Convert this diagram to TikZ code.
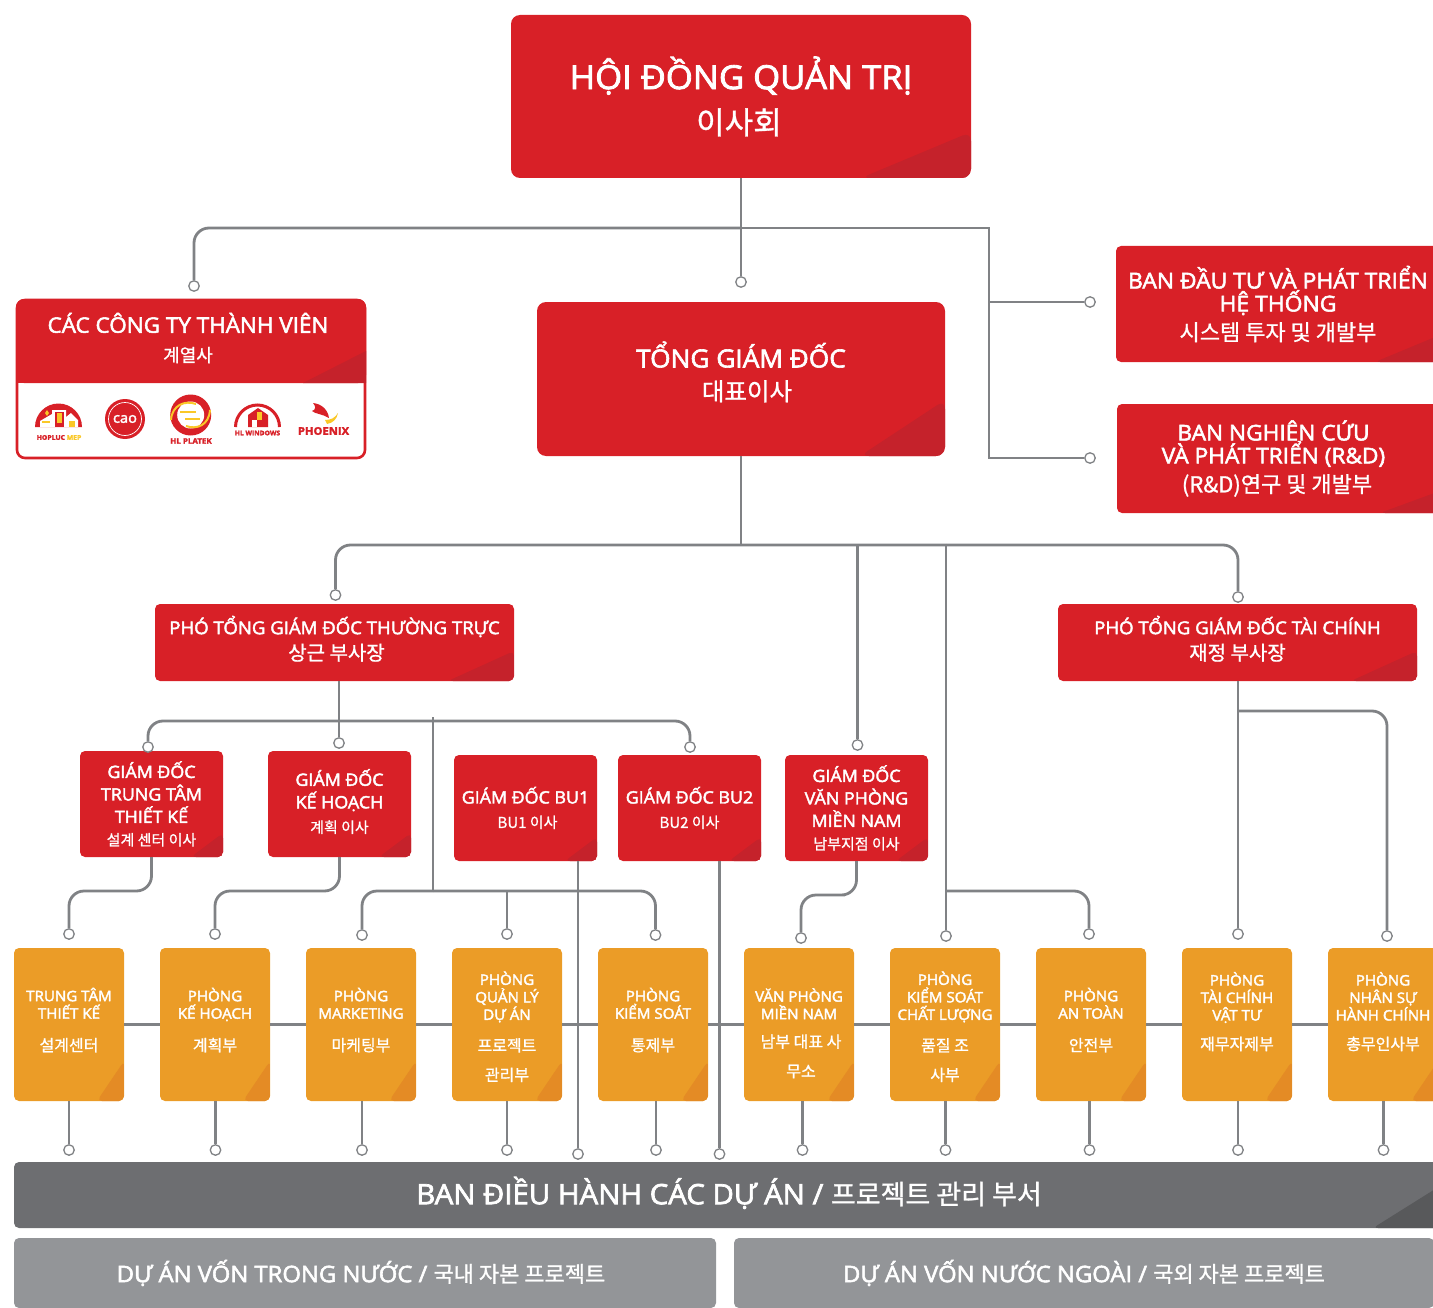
\documentclass[tikz,border=0pt]{standalone}
\usepackage{fontspec}
\setmainfont{Open Sans}[FakeStretch=1.05,FakeBold=2.5]
\newfontfamily\kr{Noto Sans CJK KR}[FakeBold=1]
\usetikzlibrary{positioning}
\definecolor{mainred}{RGB}{216,32,39}
\definecolor{foldred}{RGB}{197,34,43}
\definecolor{mainorange}{RGB}{235,156,39}
\definecolor{foldorange}{RGB}{228,139,37}
\definecolor{darkgrey}{RGB}{109,110,113}
\definecolor{foldgrey}{RGB}{88,89,91}
\definecolor{lightgrey}{RGB}{147,149,152}
\definecolor{linegrey}{RGB}{128,130,133}
\definecolor{logoyellow}{RGB}{250,200,40}
\newcommand{\fs}[2]{\fontsize{#1}{#2}\selectfont}
\newcommand{\lift}[1]{\rule[-#1pt]{0pt}{#1pt}}
\newcommand{\drop}[1]{\rule{0pt}{#1pt}}
\tikzset{
  corner/.style n args={3}{path picture={\fill[#3] ([xshift=-#1 pt]path picture bounding box.south east) -- ([yshift=#2 pt]path picture bounding box.south east) -- (path picture bounding box.south east) -- cycle;}},
  box/.style={rounded corners=5pt,inner sep=0pt,align=center,text=white},
  redbox/.style={box,fill=mainred},
  bigbox/.style={redbox,rounded corners=9pt},
  gdbox/.style={redbox,minimum width=143pt,minimum height=106pt,corner={32}{24}{foldred},font=\fs{17}{22.5}},
  phobox/.style={redbox,minimum width=359pt,minimum height=77pt,corner={66}{30}{foldred},font=\fs{17.7}{25}},
  orbox/.style={box,fill=mainorange,minimum width=110pt,minimum height=153pt,corner={27}{40}{foldorange},font=\fs{14.4}{17.5}},
  dot/.style={circle,draw=linegrey,fill=white,line width=1.3pt,minimum size=10.5pt,inner sep=0pt},
  conn/.style={draw=linegrey,line width=2.8pt},
  curved/.style={conn,rounded corners=15pt},
  logotxt/.style={text=mainred,inner sep=0pt,font=\bfseries}
}
\begin{document}
\begin{tikzpicture}[x=1pt,y=-1pt]
    \useasboundingbox (0,0) rectangle (1433,1308);
    \clip (0,0) rectangle (1433,1308);

    % === Top boxes ===
    \node[bigbox,minimum width=460pt,minimum height=163pt,corner={110}{46}{foldred},font=\fs{33}{45}] (hdqt) at (741,96.5) {HỘI ĐỒNG QUẢN TRỊ\\{\kr\fs{31}{45}이사회\hspace*{4pt}}};
    \node[bigbox,minimum width=408pt,minimum height=154pt,corner={85}{56}{foldred},font=\fs{25}{33}] (tgd) at (741,379) {TỔNG GIÁM ĐỐC\\{\kr\fs{24.5}{33}\hspace*{12pt}대표이사\lift{16}}};
    \node[redbox,minimum width=324pt,minimum height=116pt,corner={65}{27}{foldred},font=\fs{21.8}{23}] (dautu) at (1278,304) {BAN ĐẦU TƯ VÀ PHÁT TRIỂN\\HỆ THỐNG\\[6pt]{\kr\fs{22}{23}시스템 투자 및 개발부}};
    \node[redbox,minimum width=323pt,minimum height=109pt,corner={60}{22}{foldred},font=\fs{21.6}{23}] (rnd) at (1278.5,458.5) {\hspace*{-10pt}BAN NGHIÊN CỨU\\\hspace*{-10pt}VÀ PHÁT TRIỂN (R\&D)\\[6pt]\hspace*{-3pt}{\kr\fs{22}{23}(R\&D)연구 및 개발부}};

    % === Member companies ===
    \node[draw=mainred,line width=2.6pt,fill=white,rounded corners=8pt,minimum width=348pt,minimum height=158pt,inner sep=0pt] (congty) at (191,379) {};
    \fill[mainred,rounded corners=8pt] (16,383) -- (16,299) -- (366,299) -- (366,383) -- cycle;
    \fill[mainred] (16,370) rectangle (366,383);
    \fill[foldred] (303,383) -- (366,351) -- (366,383) -- cycle;
    \node[text=white,align=center,inner sep=0pt,font=\fs{21.4}{29}] (congtytxt) at (188,338) {CÁC CÔNG TY THÀNH VIÊN\\{\kr\fs{18}{29}계열사}};

    % hopluc
    \fill[mainred] (35,427) arc (180:360:23.5) -- cycle;
    \fill[white] (40,427) -- (40,421) -- (52,414) -- (52,410) -- (66,410) -- (66,427) -- cycle;
    \fill[mainred] (55,412) rectangle (64,427);
    \fill[logoyellow] (57,413) rectangle (62,423);
    \fill[white] (66,427) -- (66,417) -- (71,413) -- (78,420) -- (78,427) -- cycle;
    \fill[logoyellow] (69,421) rectangle (75,427);
    \fill[logoyellow] (42,421) rectangle (50,423);
    \fill[logoyellow] (47,410) -- (49,413) -- (47,416) -- (45,413) -- cycle;
    \node[logotxt,font=\bfseries\fs{6.5}{8}] (hopluc) at (59,437.5) {HOPLUC \textcolor{logoyellow}{MEP}};
    % cao
    \node[circle,fill=mainred,minimum size=40pt,inner sep=0pt] (cao) at (125,419) {};
    \node[circle,draw=white,line width=0.7pt,minimum size=33pt,inner sep=0pt,text=white,font=\fs{14}{14}] (caotxt) at (125,419) {cao};
    % platek
    \node[circle,fill=mainred,minimum size=41pt,inner sep=0pt] (platek) at (190.7,415) {};
    \node[circle,fill=white,minimum size=27pt,inner sep=0pt] (platekin) at (190.7,415) {};
    \draw[logoyellow,line width=2pt] (171,420) .. controls (172,405) and (185,400) .. (196,404);
    \draw[logoyellow,line width=2pt] (210,410) .. controls (209,425) and (197,430) .. (186,426);
    \draw[logoyellow,line width=1.2pt] (185,419) -- (200,419);
    \draw[logoyellow,line width=1.2pt] (180,412) -- (196,412);
    \node[logotxt,font=\bfseries\fs{7.6}{9}] (platektxt) at (191,441) {HL PLATEK};
    % windows
    \draw[mainred,line width=3pt] (235.5,427) arc (180:360:22);
    \fill[mainred] (248,427) -- (248,415) -- (258,408) -- (268,415) -- (268,427) -- cycle;
    \fill[logoyellow] (257,412) rectangle (262,420);
    \fill[white] (252,420) rectangle (257,427);
    \node[logotxt,font=\bfseries\fs{6.4}{8}] (windows) at (257.5,433) {HL WINDOWS};
    % phoenix
    \fill[mainred] (313,403) .. controls (322,404) and (328,410) .. (329,418) .. controls (323,414) and (315,414) .. (312,411) .. controls (316,410) and (316,406) .. (313,403) -- cycle;
    \fill[logoyellow] (327,424) .. controls (333,423) and (337,419) .. (338,413) .. controls (335,418) and (331,420) .. (325,420) -- cycle;
    \node[logotxt,font=\bfseries\fs{10.7}{14}] (phoenix) at (323.5,431) {PHOENIX};

    % === Deputy directors ===
    \node[phobox] (phott) at (334.5,642.5) {PHÓ TỔNG GIÁM ĐỐC THƯỜNG TRỰC\\[1pt]{\kr\fs{20}{25}\hspace*{4pt}상근 부사장\lift{9}}};
    \node[phobox] (photc) at (1237.5,642.5) {PHÓ TỔNG GIÁM ĐỐC TÀI CHÍNH\\[1pt]{\kr\fs{20}{25}재정 부사장\lift{9}}};

    % === Directors ===
    \node[gdbox] (gdtk) at (151.5,804) {GIÁM ĐỐC\\TRUNG TÂM\\THIẾT KẾ\\{\kr\fs{15}{22.5}설계 센터 이사}};
    \node[gdbox] (gdkh) at (339.5,804) {GIÁM ĐỐC\\KẾ HOẠCH\\[2pt]{\kr\fs{15}{25}계획 이사\lift{6}}};
    \node[gdbox] (bua) at (525.5,808) {GIÁM ĐỐC BU1\\[2pt]{\kr\fs{15}{28}\hspace*{4pt}BU1 이사}};
    \node[gdbox] (bub) at (689.5,808) {GIÁM ĐỐC BU2\\[2pt]{\kr\fs{15}{28}BU2 이사}};
    \node[gdbox] (gdvp) at (856.5,808) {GIÁM ĐỐC\\VĂN PHÒNG\\MIỀN NAM\\{\kr\fs{15}{22.5}남부지점 이사}};

    % === Departments ===
    \node[orbox] (oa) at (69,1024.5) {TRUNG TÂM\\THIẾT KẾ\\[15pt]{\kr\fs{16}{17.5}설계센터\lift{10}}};
    \node[orbox] (ob) at (215,1024.5) {PHÒNG\\KẾ HOẠCH\\[15pt]{\kr\fs{16}{17.5}계획부\lift{10}}};
    \node[orbox] (oc) at (361,1024.5) {PHÒNG\\MARKETING\\[15pt]{\kr\fs{16}{17.5}마케팅부\lift{10}}};
    \node[orbox] (od) at (507,1024.5) {\drop{18}PHÒNG\\QUẢN LÝ\\DỰ ÁN\\[14pt]{\kr\fs{16}{17.5}프로젝트}\\[12pt]{\kr\fs{16}{17.5}관리부}};
    \node[orbox] (oe) at (653,1024.5) {PHÒNG\\KIỂM SOÁT\\[15pt]{\kr\fs{16}{17.5}통제부\lift{10}}};
    \node[orbox] (of) at (799,1024.5) {\drop{31}VĂN PHÒNG\\MIỀN NAM\\[11pt]{\kr\fs{16}{17.5}\hspace*{4pt}남부 대표 사}\\[12pt]{\kr\fs{16}{17.5}\hspace*{4pt}무소}};
    \node[orbox] (og) at (945,1024.5) {\drop{18}PHÒNG\\KIỂM SOÁT\\CHẤT LƯỢNG\\[14pt]{\kr\fs{16}{17.5}품질 조}\\[12pt]{\kr\fs{16}{17.5}사부}};
    \node[orbox] (oh) at (1091,1024.5) {PHÒNG\\AN TOÀN\\[15pt]{\kr\fs{16}{17.5}안전부\lift{10}}};
    \node[orbox] (oi) at (1237,1024.5) {PHÒNG\\TÀI CHÍNH\\VẬT TƯ\\[12pt]{\kr\fs{16}{17.5}재무자제부\lift{27}}};
    \node[orbox] (oj) at (1383,1024.5) {PHÒNG\\NHÂN SỰ\\HÀNH CHÍNH\\[12pt]{\kr\fs{16}{17.5}총무인사부\lift{27}}};

    % === Bottom bars ===
    \node[box,fill=darkgrey,minimum width=1426pt,minimum height=66pt,corner={67}{42}{foldgrey},font=\fs{28}{28}] (bandh) at (727,1195) {\hspace*{4pt}BAN ĐIỀU HÀNH CÁC DỰ ÁN / {\kr\fs{27}{28}프로젝트 관리 부서\lift{9}}};
    \node[box,fill=lightgrey,minimum width=702pt,minimum height=70pt,font=\fs{22.7}{24}] (trongnuoc) at (365,1273) {DỰ ÁN VỐN TRONG NƯỚC / {\kr\fs{22}{24}국내 자본 프로젝트}\hspace*{8pt}};
    \node[box,fill=lightgrey,minimum width=700pt,minimum height=70pt,font=\fs{22.7}{24}] (ngoainuoc) at (1084,1273) {DỰ ÁN VỐN NƯỚC NGOÀI / {\kr\fs{22}{24}국외 자본 프로젝트}};

    % === Line ends ===
    \foreach \dname/\dx/\dy in {dcty/194/286,dtgd/741/282,ddt/1090/302,drd/1090/458,
        dphott/335.5/595,dphotc/1238/597,dvp/857.5/745,dqc/946/936,dan/1089/934,
        dkh/339/743,dtk/148/747,dbub/690/747,dpa/69/934,dpb/215/934,dpc/362/935,
        dpd/507/934,dpe/655.5/935,dpf/801/938,dpi/1238/934,dpj/1387/936,
        dbua/578/1154,dbuc/719.5/1154,
        ea/69/1150,eb/215.5/1150,ec/362/1150,ed/507/1150,ee/656/1150,ef/802.5/1150,
        eg/945.5/1150,eh/1089.5/1150,ei/1238/1150,ej/1383.5/1150}
        \node[dot] (\dname) at (\dx,\dy) {};

    \coordinate (ja) at (741,228);
    \coordinate (jb) at (989,302);
    \coordinate (jc) at (989,458);
    \coordinate (jd) at (741,545);
    \coordinate (je) at (857.5,545);
    \coordinate (jf) at (946,545);
    \coordinate (jg) at (946,891);
    \coordinate (jh) at (339,721);
    \coordinate (ji) at (433,717);
    \coordinate (jj) at (433,891);
    \coordinate (jk) at (507,891);
    \coordinate (jl) at (1238,711);
    \coordinate (jm) at (110,891);
    \coordinate (jn) at (277,891);
    \coordinate (jo) at (830,895);

    % === Connectors ===
    \draw[conn] (hdqt) -- (dtgd);
    \draw[curved] (ja) -| (dcty);
    \draw[conn] (ja) -| (jc) -- (drd);
    \draw[conn] (jb) -- (ddt);
    \draw[conn] (tgd) -- (jd);
    \draw[curved] (jf) -| (dphotc);
    \draw[curved] (jf) -| (dphott);
    \draw[conn] (je) -- (dvp);
    \draw[conn] (jf) -- (dqc);
    \draw[curved] (jg) -| (dan);
    \draw[conn] (phott.south -| dkh) -- (dkh);
    \draw[curved] (jh) -| (dtk);
    \draw[curved] (jh) -| (dbub);
    \draw[conn] (ji) -- (jj);
    \draw[curved] (jj) -| (dpc);
    \draw[curved] (jj) -| (dpe);
    \draw[conn] (jk) -- (dpd);
    \draw[conn] (photc.south -| dpi) -- (dpi);
    \draw[curved] (jl) -| (dpj);
    \draw[curved] (gdtk.south) |- (jm) -| (dpa);
    \draw[curved] (gdkh.south) |- (jn) -| (dpb);
    \draw[curved] (gdvp.south) |- (jo) -| (dpf);
    \draw[conn] (bua.south -| dbua) -- (dbua);
    \draw[conn] (bub.south -| dbuc) -- (dbuc);
    \foreach \pa/\pb in {oa/ob,ob/oc,oc/od,od/oe,oe/of,of/og,og/oh,oh/oi,oi/oj}
        \draw[conn] (\pa.east) -- (\pb.west);
    \foreach \pa/\pb in {oa/ea,ob/eb,oc/ec,od/ed,oe/ee,of/ef,og/eg,oh/eh,oi/ei,oj/ej}
        \draw[conn] (\pa.south -| \pb) -- (\pb);
\end{tikzpicture}
\end{document}
